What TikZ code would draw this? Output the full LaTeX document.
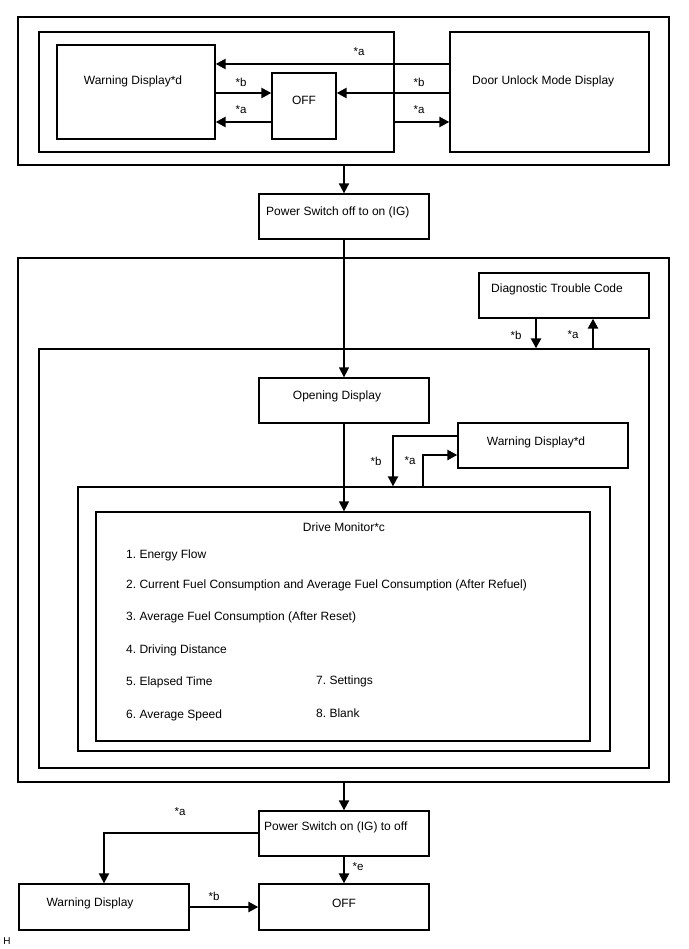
\documentclass[tikz,border=0pt]{standalone}
\usepackage{fontspec}
\setmainfont{Liberation Sans}
\usetikzlibrary{arrows.meta,fit}
\frenchspacing
\begin{document}
\begin{tikzpicture}[x=1pt,y=-1pt,
  box/.style={draw, line width=1.3pt, inner sep=0pt},
  obox/.style={draw, line width=1.5pt, inner sep=0pt},
  txt/.style={font=\fontsize{12}{14}\selectfont, inner sep=0pt},
  lbl/.style={font=\fontsize{11.5}{13}\selectfont, inner sep=0pt},
  thk/.style={line width=2.4pt, -{Triangle[length=10pt,width=10pt]}},
  med/.style={line width=2pt, -{Triangle[length=10pt,width=10pt]}},
  thn/.style={line width=1.4pt, -{Triangle[length=10pt,width=10pt]}}]
\useasboundingbox (0,0) rectangle (688,949);
% ---------- top section
\node[obox, fit={(18,17) (669,165)}] (outer1) {};
\node[box, fit={(39,32) (394,152)}] (inner1) {};
\node[box, fit={(57,45) (215,139)}] (warn1) {};
\node[txt] (warn1t) at (133,81) {Warning Display*d};
\node[box, fit={(272,73) (336,139)}] (off1) {};
\node[txt] (off1t) at (304,100) {OFF};
\node[box, fit={(450,32) (649,152)}] (door) {};
\node[txt, anchor=west] (doort) at (472,81) {Door Unlock Mode Display};
\draw[thk] (door.west |- 0,64) -- (warn1.east |- 0,64);
\node[lbl] (l1) at (359,52) {*a};
\draw[thk] (warn1.east |- 0,93) -- (off1.west |- 0,93);
\node[lbl] (l2) at (241,82) {*b};
\draw[thk] (off1.west |- 0,122) -- (warn1.east |- 0,122);
\node[lbl] (l3) at (241,110) {*a};
\draw[thk] (door.west |- 0,93) -- (off1.east |- 0,93);
\node[lbl] (l4) at (419,82) {*b};
\draw[thk] (inner1.east |- 0,122) -- (door.west |- 0,122);
\node[lbl] (l5) at (419,110) {*a};
% ---------- power switch off to on
\node[box, fit={(259,194) (429,239)}] (pw1) {};
\node[txt, anchor=west] (pw1t) at (266,212) {Power Switch off to on (IG)};
\draw[med] (outer1.south -| 344,0) -- (pw1.north -| 344,0);
% ---------- middle section
\node[obox, fit={(18,258) (669,782)}] (outer2) {};
\node[box, fit={(479,273) (649,318)}] (dtc) {};
\node[txt] (dtct) at (557,289) {Diagnostic Trouble Code};
\node[box, fit={(39,349) (649,768)}] (inner2) {};
\draw[thk] (dtc.south -| 536,0) -- (inner2.north -| 536,0);
\node[lbl] (l6) at (516,335) {*b};
\draw[thk] (inner2.north -| 593,0) -- (dtc.south -| 593,0);
\node[lbl] (l7) at (573,335) {*a};
\node[box, fit={(259,378) (429,423)}] (open) {};
\node[txt] (opent) at (337,396) {Opening Display};
\draw[thn] (pw1.south -| 344,0) -- (open.north -| 344,0);
\node[box, fit={(458,423) (628,468)}] (warn2) {};
\node[txt] (warn2t) at (536,442) {Warning Display*d};
\node[box, fit={(78,487) (610,751)}] (box3) {};
\node[box, fit={(96,512) (590,741)}] (dm) {};
\draw[thn] (open.south -| 344,0) -- (dm.north -| 344,0);
\draw[med] (warn2.west |- 0,436) -| (box3.north -| 393,0);
\node[lbl] (l8) at (376,461) {*b};
\draw[thk] (box3.north -| 423,0) |- (warn2.west |- 0,455);
\node[lbl] (l9) at (410,461) {*a};
\node[txt] (dmt) at (344,527) {Drive Monitor*c};
\node[txt, anchor=west] (i1) at (126,555) {1. Energy Flow};
\node[txt, anchor=west] (i2) at (126,585) {2. Current Fuel Consumption and Average Fuel Consumption (After Refuel)};
\node[txt, anchor=west] (i3) at (126,617) {3. Average Fuel Consumption (After Reset)};
\node[txt, anchor=west] (i4) at (126,650) {4. Driving Distance};
\node[txt, anchor=west] (i5) at (126,682) {5. Elapsed Time};
\node[txt, anchor=west] (i6) at (126,715) {6. Average Speed};
\node[txt, anchor=west] (i7) at (316,681) {7. Settings};
\node[txt, anchor=west] (i8) at (316,713) {8. Blank};
% ---------- bottom section
\node[box, fit={(259,811) (429,856)}] (pw2) {};
\node[txt, anchor=west] (pw2t) at (264,827) {Power Switch on (IG) to off};
\draw[med] (outer2.south -| 344,0) -- (pw2.north -| 344,0);
\node[box, fit={(19,884) (189,930)}] (wd) {};
\node[txt] (wdt) at (90,903) {Warning Display};
\node[box, fit={(259,884) (429,930)}] (off2) {};
\node[txt] (off2t) at (344,903) {OFF};
\draw[med] (pw2.west |- 0,833) -| (wd.north -| 104,0);
\node[lbl] (l10) at (180,812) {*a};
\draw[thk] (pw2.south -| 344,0) -- (off2.north -| 344,0);
\node[lbl] (l11) at (358,867) {*e};
\draw[thk] (wd.east |- 0,907) -- (off2.west |- 0,907);
\node[lbl] (l12) at (214,896) {*b};
\node[font=\fontsize{10}{12}\selectfont, inner sep=0pt] (h) at (7,941) {H};
\end{tikzpicture}
\end{document}
